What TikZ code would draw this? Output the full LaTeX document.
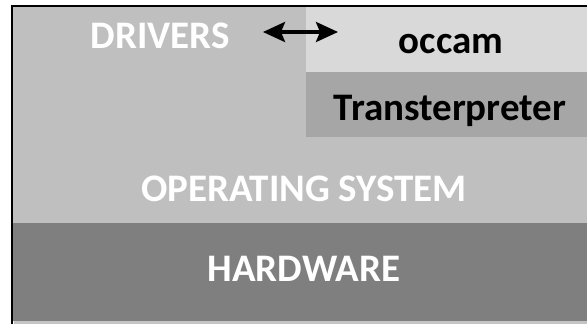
\documentclass[tikz,border=0pt]{standalone}
\usepackage{fontspec}
\setmainfont{Carlito}
\usetikzlibrary{arrows.meta}
\definecolor{grisfondo}{HTML}{BFBFBF}
\definecolor{grisoccam}{HTML}{D9D9D9}
\definecolor{gristrans}{HTML}{A6A6A6}
\definecolor{grishw}{HTML}{7F7F7F}
\definecolor{grispie}{HTML}{C4C4C4}
\begin{document}
\begin{tikzpicture}[x=1pt,y=-1pt,
	capa/.style={font=\fontsize{39}{40}\selectfont\bfseries,anchor=base,inner sep=0pt},
	blanco/.style={capa,text=white},
	punta/.tip={Stealth[length=22pt,width=20pt,inset=4pt]}]
			\useasboundingbox (0,0) rectangle (587,324);

			% capas
			\fill[grisfondo] (12,6) rectangle (587,223);
			\fill[grisoccam] (306,6) rectangle (587,72);
			\fill[gristrans] (306,72) rectangle (587,137);
			\fill[grishw] (12,223) rectangle (587,321);
			\fill[grispie] (14,321) rectangle (587,324);
			\draw[line width=2pt] (12,324) -- (12,6) -- (587,6);

			\node[blanco] (drivers) at (160,48) {DRIVERS};
			\node[capa] (occam) at (451,53) {occam};
			\node[capa] (trans) at (450,120) {Transterpreter};
			\node[blanco] (os) at (304,201) {OPERATING SYSTEM};
			\node[blanco] (hw) at (304,281) {HARDWARE};

			% flecha drivers-occam
			\coordinate (fizq) at (263,32);
			\coordinate (fder) at (338,32);
			\draw[punta-punta,line width=3.5pt] (fizq) -- (fder);
		    \end{tikzpicture}
\end{document}
